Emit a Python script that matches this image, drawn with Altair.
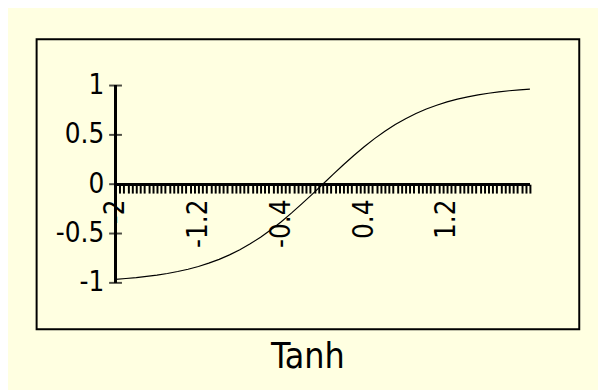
import altair as alt
import pandas as pd

# Curve values (x step 0.1)
curve_x = [-2.0, -1.9, -1.8, -1.7, -1.6, -1.5, -1.4, -1.3, -1.2, -1.1, -1.0,
           -0.9, -0.8, -0.7, -0.6, -0.5, -0.4, -0.3, -0.2, -0.1, 0.0,
           0.1, 0.2, 0.3, 0.4, 0.5, 0.6, 0.7, 0.8, 0.9, 1.0,
           1.1, 1.2, 1.3, 1.4, 1.5, 1.6, 1.7, 1.8, 1.9, 2.0]
curve_y = [-0.964, -0.956, -0.947, -0.935, -0.922, -0.905, -0.885, -0.862, -0.834, -0.800, -0.762,
           -0.716, -0.664, -0.604, -0.537, -0.462, -0.380, -0.291, -0.197, -0.100, 0.0,
           0.100, 0.197, 0.291, 0.380, 0.462, 0.537, 0.604, 0.664, 0.716, 0.762,
           0.800, 0.834, 0.862, 0.885, 0.905, 0.922, 0.935, 0.947, 0.956, 0.964]

# Axis ticks / labels
x_tick_start, x_tick_step, x_tick_count = -2.0, 0.04, 101
x_tick_values = [round(x_tick_start + x_tick_step * i, 2) for i in range(x_tick_count)]
x_label_values = [-2.0, -1.2, -0.4, 0.4, 1.2]
x_label_texts = ["-2", "-1.2", "-0.4", "0.4", "1.2"]
y_tick_values = [-1.0, -0.5, 0.0, 0.5, 1.0]
y_label_texts = ["-1", "-0.5", "0", "0.5", "1"]

title_text = "Tanh"
FONT = "Liberation Sans Narrow, Arial Narrow, DejaVu Sans Condensed, sans-serif"
BG = "#FFFFE1"


def label_expr(values, texts):
    expr = "''"
    for v, t in reversed(list(zip(values, texts))):
        expr = f"abs(datum.value - ({v})) < 0.001 ? '{t}' : ({expr})"
    return expr


curve_df = pd.DataFrame({"x": curve_x, "y": curve_y})
ytick_df = pd.DataFrame({"y": y_tick_values})

X_DOMAIN = [-2.7619, 2.4762]
Y_DOMAIN = [-1.47, 1.47]
W, H = 550, 294

xscale = alt.Scale(domain=X_DOMAIN, nice=False, zero=False)
yscale = alt.Scale(domain=Y_DOMAIN, nice=False, zero=False)

x_axis = alt.Axis(
    orient="bottom", offset=-147, values=x_tick_values, tickCount=1000,
    domain=False, grid=False,
    ticks=True, tickSize=9, tickWidth=2, tickColor="black",
    labelExpr=label_expr(x_label_values, x_label_texts),
    labelAngle=-90, labelAlign="right", labelBaseline="middle", labelPadding=6,
    labelFont=FONT, labelFontSize=28, labelColor="black",
    labelOverlap=False, labelBound=False, labelFlush=False, title=None,
)
y_axis = alt.Axis(
    orient="left", offset=-80, values=y_tick_values, tickCount=1000,
    domain=False, grid=False,
    ticks=False, tickSize=0,
    labelExpr=label_expr(y_tick_values, y_label_texts),
    labelPadding=12, labelFont=FONT, labelFontSize=28, labelColor="black",
    labelOverlap=False, labelBound=False, labelFlush=False, title=None,
)

line = alt.Chart(curve_df).mark_line(color="black", strokeWidth=1.2).encode(
    x=alt.X("x:Q", scale=xscale, axis=x_axis),
    y=alt.Y("y:Q", scale=yscale, axis=y_axis),
)

x_line = alt.Chart(curve_df).mark_rule(color="black", strokeWidth=2.5).encode(
    x=alt.datum(x_label_values[0], scale=xscale),
    x2=alt.datum(curve_x[-1]),
    y=alt.datum(0.0, scale=yscale),
)
y_line = alt.Chart(curve_df).mark_rule(color="black", strokeWidth=2.5).encode(
    x=alt.datum(x_label_values[0], scale=xscale),
    y=alt.datum(y_tick_values[0], scale=yscale),
    y2=alt.datum(y_tick_values[-1]),
)
y_ticks = alt.Chart(ytick_df).mark_tick(
    orient="horizontal", size=13, thickness=2, color="black"
).encode(
    x=alt.datum(x_label_values[0], scale=xscale),
    y=alt.Y("y:Q", scale=yscale),
)

chart = alt.layer(x_line, y_line, y_ticks, line).properties(
    width=W, height=H,
    autosize=alt.AutoSizeParams(type="none"),
    padding={"left": 29, "top": 29, "right": 19, "bottom": 59},
    background=BG,
    title=alt.TitleParams(
        title_text, orient="bottom", anchor="middle", font=FONT, fontSize=36,
        fontWeight="normal", color="black", baseline="alphabetic", offset=39,
    ),
).configure_view(stroke="black", strokeWidth=2, fill=BG)

chart.save("out.html", embed_options={"renderer": "svg", "actions": False})
